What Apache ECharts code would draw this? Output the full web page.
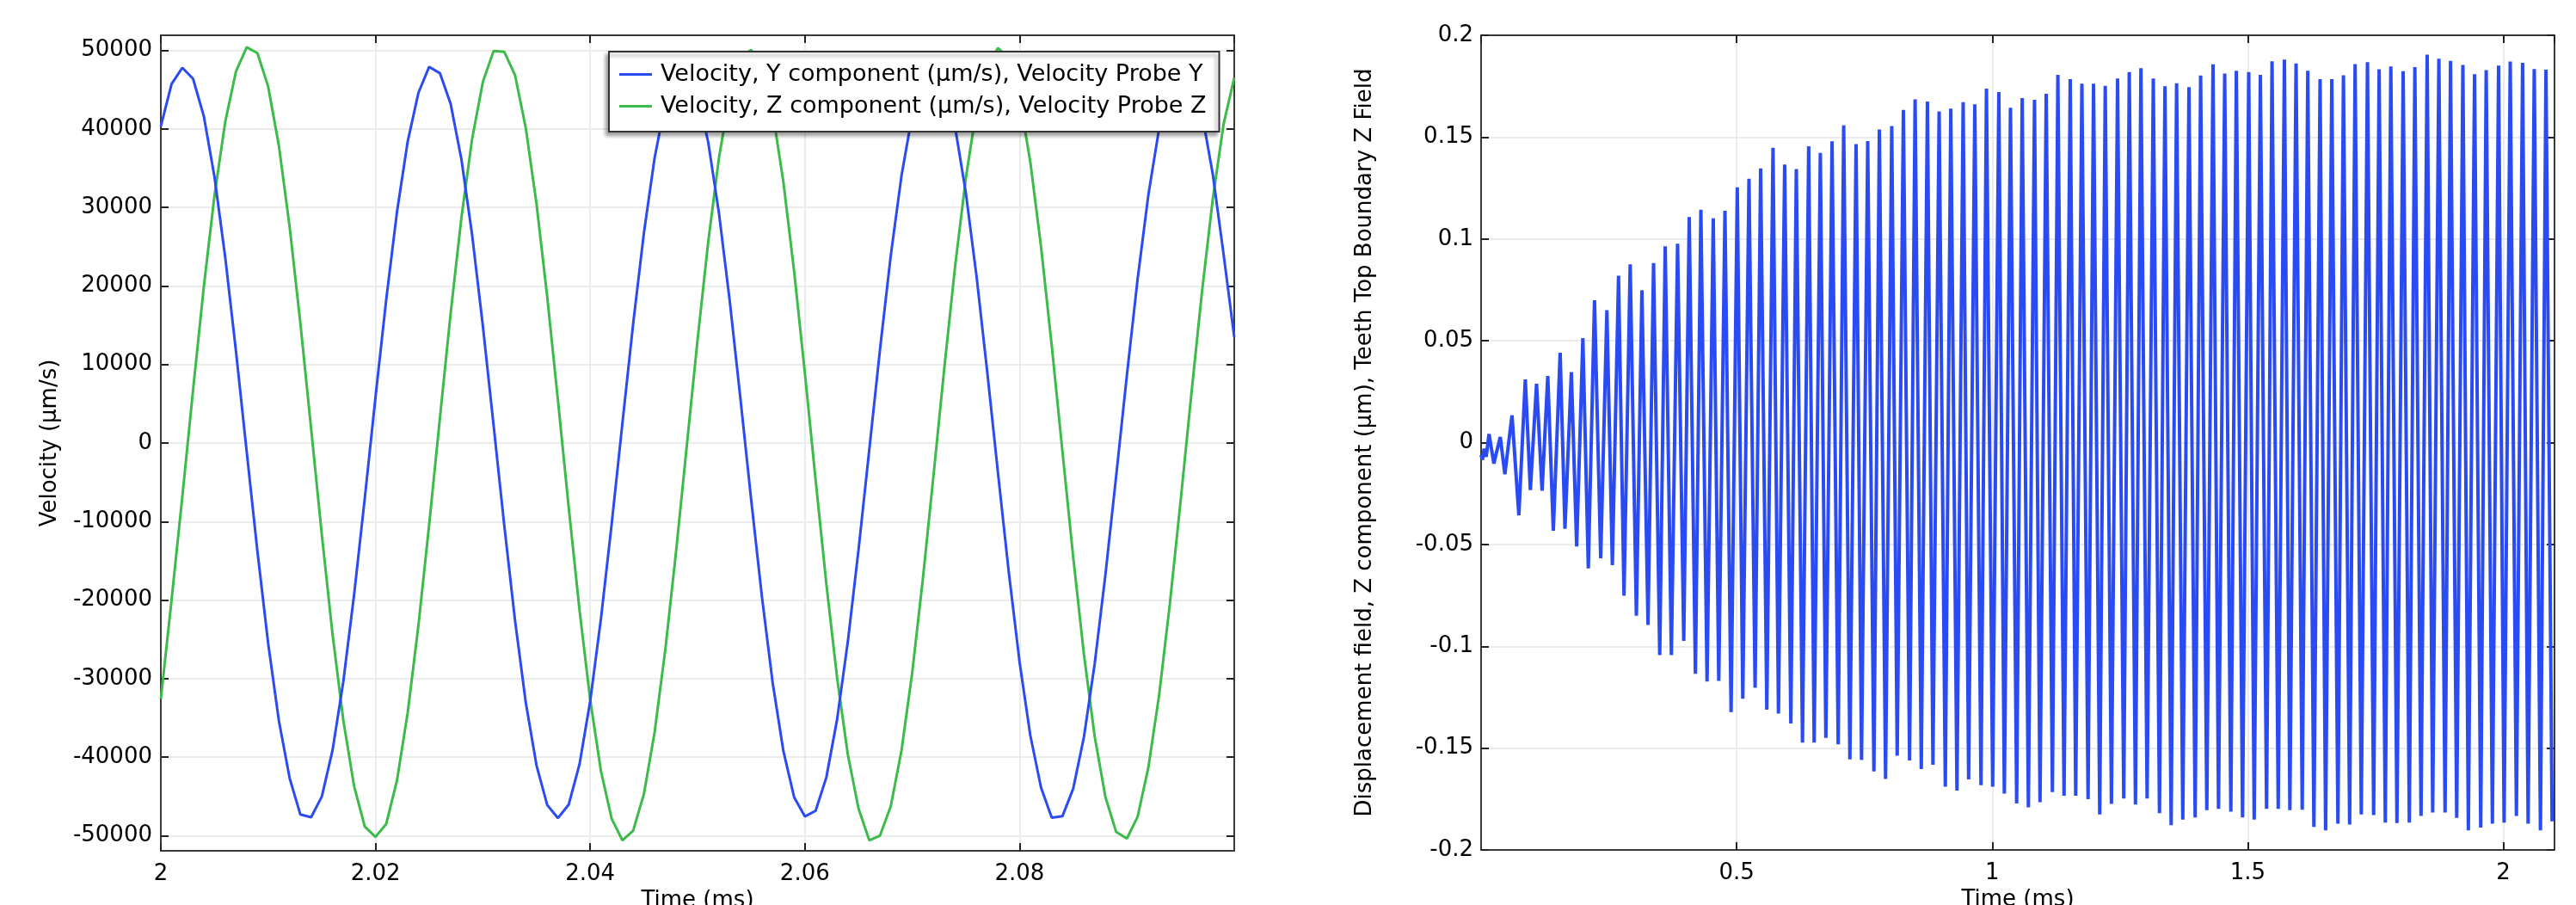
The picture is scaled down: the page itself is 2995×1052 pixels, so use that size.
<!DOCTYPE html>
<html>
<head>
<meta charset="utf-8">
<script src="https://cdn.jsdelivr.net/npm/echarts@6/dist/echarts.min.js"></script>
<style>
html,body{margin:0;padding:0;background:#ffffff;}
#c{width:2995px;height:1052px;}
</style>
</head>
<body>
<div id="c"></div>
<script>
// ---------- Left chart: velocity probes ----------
const timeL = [
  2.000,2.001,2.002,2.003,2.004,2.005,2.006,2.007,2.008,2.009,
  2.010,2.011,2.012,2.013,2.014,2.015,2.016,2.017,2.018,2.019,
  2.020,2.021,2.022,2.023,2.024,2.025,2.026,2.027,2.028,2.029,
  2.030,2.031,2.032,2.033,2.034,2.035,2.036,2.037,2.038,2.039,
  2.040,2.041,2.042,2.043,2.044,2.045,2.046,2.047,2.048,2.049,
  2.050,2.051,2.052,2.053,2.054,2.055,2.056,2.057,2.058,2.059,
  2.060,2.061,2.062,2.063,2.064,2.065,2.066,2.067,2.068,2.069,
  2.070,2.071,2.072,2.073,2.074,2.075,2.076,2.077,2.078,2.079,
  2.080,2.081,2.082,2.083,2.084,2.085,2.086,2.087,2.088,2.089,
  2.090,2.091,2.092,2.093,2.094,2.095,2.096,2.097,2.098,2.099,
  2.100
];
const velY = [
  40310,45710,47780,46390,41640,33870,23640,11690,-1100,-13800,
  -25520,-35380,-42670,-47300,-47650,-45010,-39090,-30370,-19370,-7020,
  5860,18310,29430,38410,44610,47900,47090,43190,36150,26500,
  14920,2260,-10560,-22620,-33050,-41060,-46100,-47750,-46030,-40930,
  -32860,-22390,-10320,2510,15160,26710,36310,43290,47130,47550,
  44520,38260,29230,18080,5610,-7260,-19600,-30530,-39230,-45100,
  -47550,-46830,-42570,-35200,-25310,-13570,-850,11940,23860,34030,
  41760,46450,47780,45630,40180,31810,21140,8930,-3920,-16490,
  -27870,-37220,-43870,-47700,-47500,-43990,-37400,-28100,-16750,-4210,
  8650,20890,31600,40030,45550,47770,46520,41900,34240,24110,
  13500
];
const velZ = [
  -32600,-19970,-6870,6730,19850,31530,40900,47320,50400,49650,
  45390,37830,27540,15250,1840,-11700,-24380,-35300,-43660,-48840,
  -50150,-48490,-42960,-34310,-23180,-10370,3200,16530,28670,38730,
  45970,49930,49800,46830,40100,30450,18590,5380,-8210,-21210,
  -32670,-41760,-47820,-50580,-49360,-44710,-36830,-26270,-13820,-350,
  13140,25670,36350,44390,49200,50050,48050,42160,33210,21850,
  8910,-4680,-17930,-29870,-39660,-46560,-50580,-49980,-46260,-39160,
  -29240,-17200,-3910,9670,22550,33790,42580,48280,50300,49020,
  44000,35800,25000,12380,-1140,-14560,-26940,-37370,-45080,-49520,
  -50360,-47570,-41310,-32110,-20500,-7440,6160,19310,31070,40560,
  46500
];
const velTicks = [-50000,-40000,-30000,-20000,-10000,0,10000,20000,30000,40000,50000];

// ---------- Right chart: displacement extrema ----------
const troughTime = [
  0,0.0025,0.010,0.025,0.0465,0.0739,0.0964,0.1193,0.1413,0.1641,
  0.1870,0.2098,0.2340,0.2568,0.2796,0.3038,0.3266,0.3495,0.3723,0.3965,
  0.4193,0.4421,0.4650,0.4891,0.5120,0.5361,0.5590,0.5818,0.6060,0.6288,
  0.6516,0.6745,0.6986,0.7215,0.7443,0.7685,0.7913,0.8141,0.8383,0.8612,
  0.8840,0.9082,0.9310,0.9538,0.9780,1.0008,1.0237,1.0478,1.0707,1.0935,
  1.1177,1.1405,1.1633,1.1875,1.2103,1.2332,1.2573,1.2802,1.3030,1.3272,
  1.3500,1.3728,1.3970,1.4198,1.4427,1.4668,1.4897,1.5125,1.5367,1.5595,
  1.5823,1.6065,1.6293,1.6522,1.6763,1.6992,1.7220,1.7462,1.7690,1.7918,
  1.8160,1.8389,1.8617,1.8859,1.9087,1.9315,1.9557,1.9785,2.0014,2.0255,
  2.0484,2.0725,2.0953
];
const troughValue = [
  -0.006,-0.0085,-0.007,-0.0103,-0.0155,-0.0357,-0.0233,-0.0236,-0.0433,-0.0423,
  -0.0510,-0.0618,-0.0568,-0.0602,-0.0752,-0.0850,-0.0895,-0.1043,-0.1043,-0.0973,
  -0.1135,-0.1173,-0.1170,-0.1323,-0.1258,-0.1204,-0.1311,-0.1330,-0.1379,-0.1473,
  -0.1473,-0.1450,-0.1481,-0.1555,-0.1558,-0.1615,-0.1651,-0.1537,-0.1561,-0.1603,
  -0.1582,-0.1689,-0.1708,-0.1654,-0.1682,-0.1689,-0.1723,-0.1772,-0.1791,-0.1765,
  -0.1716,-0.1734,-0.1734,-0.1751,-0.1826,-0.1774,-0.1748,-0.1777,-0.1748,-0.1819,
  -0.1878,-0.1851,-0.1840,-0.1805,-0.1798,-0.1812,-0.1840,-0.1851,-0.1798,-0.1798,
  -0.1805,-0.1802,-0.1887,-0.1904,-0.1871,-0.1875,-0.1826,-0.1829,-0.1866,-0.1868,
  -0.1866,-0.1833,-0.1816,-0.1816,-0.1843,-0.1904,-0.1890,-0.1871,-0.1866,-0.1833,
  -0.1871,-0.1904,-0.1860
];
const peakTime = [
  0.006,0.0155,0.0375,0.0605,0.0865,0.1085,0.1305,0.1547,0.1766,
  0.1991,0.2219,0.2461,0.2689,0.2917,0.3146,0.3374,0.3602,0.3844,0.4072,
  0.4300,0.4542,0.4771,0.5012,0.5241,0.5469,0.5711,0.5939,0.6167,0.6409,
  0.6637,0.6866,0.7094,0.7336,0.7564,0.7792,0.8034,0.8262,0.8491,0.8732,
  0.8961,0.9189,0.9431,0.9659,0.9887,1.0129,1.0357,1.0586,1.0827,1.1056,
  1.1284,1.1526,1.1754,1.1982,1.2211,1.2452,1.2681,1.2909,1.3151,1.3379,
  1.3607,1.3849,1.4077,1.4319,1.4548,1.4776,1.5018,1.5246,1.5474,1.5716,
  1.5944,1.6173,1.6414,1.6643,1.6871,1.7099,1.7341,1.7569,1.7798,1.8039,
  1.8268,1.8509,1.8738,1.8966,1.9208,1.9436,1.9664,1.9906,2.0134,2.0376,
  2.0604,2.0833
];
const peakValue = [
  -0.003,0.0042,0.0028,0.0134,0.0310,0.0289,0.0327,0.0441,0.0346,
  0.0513,0.0699,0.0650,0.0819,0.0875,0.0748,0.0882,0.0964,0.0977,0.1108,
  0.1143,0.1101,0.1138,0.1253,0.1296,0.1346,0.1448,0.1365,0.1343,0.1455,
  0.1422,0.1479,0.1558,0.1466,0.1480,0.1537,0.1554,0.1634,0.1685,0.1675,
  0.1626,0.1640,0.1671,0.1661,0.1738,0.1721,0.1644,0.1692,0.1683,0.1713,
  0.1806,0.1785,0.1762,0.1762,0.1752,0.1788,0.1819,0.1838,0.1788,0.1750,
  0.1764,0.1745,0.1802,0.1857,0.1812,0.1826,0.1819,0.1806,0.1872,0.1881,
  0.1862,0.1826,0.1785,0.1785,0.1803,0.1858,0.1868,0.1833,0.1847,0.1824,
  0.1844,0.1905,0.1885,0.1874,0.1854,0.1809,0.1829,0.1851,0.1871,0.1865,
  0.1834,0.1831
];

// ---------- build series data ----------
const dataY = timeL.map((t, i) => [t, velY[i]]);
const dataZ = timeL.map((t, i) => [t, velZ[i]]);
const dispData = troughTime.map((t, i) => [t, troughValue[i]])
  .concat(peakTime.map((t, i) => [t, peakValue[i]]))
  .sort((a, b) => a[0] - b[0]);

const FONT = 'DejaVu Sans';
const BLUE = '#2a4af2';
const GREEN = '#3cba4a';
const axisLine = {show: true, onZero: false, lineStyle: {color: '#3a3a3a', width: 2}};
const tick = {show: true, inside: true, length: 9, lineStyle: {color: '#222', width: 2}};
const grid = {show: true, lineStyle: {color: '#ebebeb', width: 2}};
const lbl = {color: '#000', fontSize: 26, fontFamily: FONT};
const nameStyle = {color: '#000', fontSize: 26, fontFamily: FONT};

const option = {
  animation: false,
  backgroundColor: '#ffffff',
  grid: [
    {left: 187, top: 41, width: 1248, height: 948, containLabel: false, outerBoundsMode: 'none'},
    {left: 1722, top: 41, width: 1248, height: 947, containLabel: false, outerBoundsMode: 'none'}
  ],
  legend: {
    data: ['Velocity, Y component (µm/s), Velocity Probe Y', 'Velocity, Z component (µm/s), Velocity Probe Z'],
    orient: 'vertical',
    left: 708, top: 60,
    icon: 'rect',
    itemWidth: 38, itemHeight: 3,
    itemGap: 10,
    padding: [13, 15, 16, 12],
    backgroundColor: '#ffffff',
    borderColor: '#333333', borderWidth: 2, borderRadius: 0,
    shadowColor: 'rgba(0,0,0,0.35)', shadowBlur: 4, shadowOffsetX: -3, shadowOffsetY: 4,
    textStyle: {color: '#000', fontSize: 27, fontFamily: FONT, padding: [0, 0, 0, 5]},
    selectedMode: false
  },
  xAxis: [
    {gridIndex: 0, type: 'value', min: 2, max: 2.1, interval: 0.02, position: 'bottom',
     axisLine: axisLine, axisTick: tick, splitLine: grid,
     axisLabel: Object.assign({margin: 14, showMaxLabel: false}, lbl),
     name: 'Time (ms)', nameLocation: 'middle', nameGap: 44, nameTextStyle: nameStyle},
    {gridIndex: 0, type: 'value', min: 2, max: 2.1, interval: 0.02, position: 'top',
     axisLine: axisLine, axisTick: tick, splitLine: {show: false}, axisLabel: {show: false}},
    {gridIndex: 1, type: 'value', min: 0, max: 2.1, interval: 0.5, position: 'bottom',
     axisLine: axisLine, axisTick: tick, splitLine: grid,
     axisLabel: Object.assign({margin: 14, showMinLabel: false, showMaxLabel: false}, lbl),
     name: 'Time (ms)', nameLocation: 'middle', nameGap: 44, nameTextStyle: nameStyle},
    {gridIndex: 1, type: 'value', min: 0, max: 2.1, interval: 0.5, position: 'top',
     axisLine: axisLine, axisTick: tick, splitLine: {show: false}, axisLabel: {show: false}}
  ],
  yAxis: [
    {gridIndex: 0, type: 'value', min: -51920, max: 51920, position: 'left',
     axisLine: axisLine, axisTick: Object.assign({customValues: velTicks}, tick), splitLine: grid,
     axisLabel: Object.assign({margin: 10, customValues: velTicks, formatter: v => String(v)}, lbl),
     name: 'Velocity (µm/s)', nameLocation: 'middle', nameGap: 116, nameTextStyle: nameStyle},
    {gridIndex: 0, type: 'value', min: -51920, max: 51920, position: 'right',
     axisLine: axisLine, axisTick: Object.assign({customValues: velTicks}, tick),
     splitLine: {show: false}, axisLabel: {show: false, customValues: velTicks}},
    {gridIndex: 1, type: 'value', min: -0.2, max: 0.2, interval: 0.05, position: 'left',
     axisLine: axisLine, axisTick: tick, splitLine: grid,
     axisLabel: Object.assign({margin: 9}, lbl),
     name: 'Displacement field, Z component (µm), Teeth Top Boundary Z Field',
     nameLocation: 'middle', nameGap: 122, nameTextStyle: nameStyle},
    {gridIndex: 1, type: 'value', min: -0.2, max: 0.2, interval: 0.05, position: 'right',
     axisLine: axisLine, axisTick: tick, splitLine: {show: false}, axisLabel: {show: false}}
  ],
  series: [
    {name: 'Velocity, Y component (µm/s), Velocity Probe Y', type: 'line',
     xAxisIndex: 0, yAxisIndex: 0, data: dataY, showSymbol: false, symbol: 'none',
     color: BLUE, lineStyle: {color: BLUE, width: 3}, z: 3},
    {name: 'Velocity, Z component (µm/s), Velocity Probe Z', type: 'line',
     xAxisIndex: 0, yAxisIndex: 0, data: dataZ, showSymbol: false, symbol: 'none',
     color: GREEN, lineStyle: {color: GREEN, width: 3}, z: 2},
    {name: 'Displacement field, Z component (µm), Teeth Top Boundary Z Field', type: 'line',
     xAxisIndex: 2, yAxisIndex: 2, data: dispData, showSymbol: false, symbol: 'none',
     color: BLUE, lineStyle: {color: BLUE, width: 4}, z: 3}
  ]
};

const chart = echarts.init(document.getElementById('c'), null, {renderer: 'canvas'});
chart.setOption(option);
</script>
</body>
</html>
